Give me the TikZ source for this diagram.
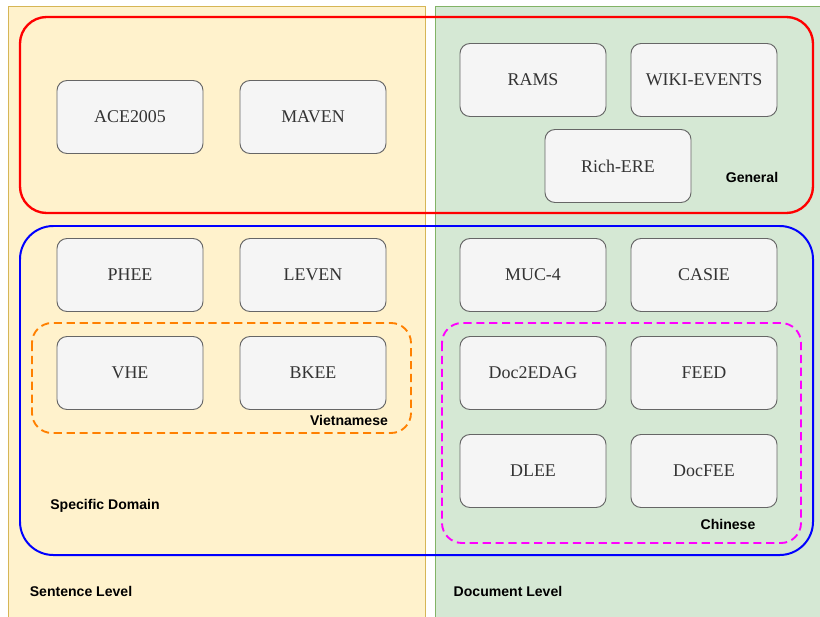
\documentclass[tikz,border=0pt]{standalone}
\usepackage{fontspec}
\setmainfont{Liberation Serif}
\setsansfont{Liberation Sans}
\definecolor{sentfill}{HTML}{FFF2CC}
\definecolor{sentdraw}{HTML}{D6B656}
\definecolor{docfill}{HTML}{D5E8D4}
\definecolor{docdraw}{HTML}{82B366}
\definecolor{boxfill}{HTML}{F5F5F5}
\definecolor{boxdraw}{HTML}{666666}
\definecolor{boxtext}{HTML}{333333}
\definecolor{orangeline}{HTML}{FF8000}
\definecolor{magentaline}{HTML}{FF00FF}
\begin{document}
\begin{tikzpicture}[x=0.03cm,y=-0.03cm,
    dataset/.style={draw=boxdraw,fill=boxfill,line width=0.8pt,rounded corners=0.3cm,
        minimum width=4.38cm,minimum height=2.19cm,inner sep=0pt,
        text=boxtext,font=\fontsize{15.3}{18}\selectfont},
    tag/.style={inner sep=0pt,font=\sffamily\bfseries\fontsize{12}{14}\selectfont}]
    \useasboundingbox (0,0) rectangle (820,616);
    \clip (0,0) rectangle (820,616);

    % level panels
    \draw[draw=sentdraw,fill=sentfill] (8,6) rectangle (425,630);
    \draw[draw=docdraw,fill=docfill] (435,6) rectangle (830,630);

    % groups
    \draw[red,line width=2pt,rounded corners=0.8cm] (20,17) rectangle (813,213);
    \draw[blue,line width=1.7pt,rounded corners=1cm] (20,226) rectangle (813,555);
    \draw[orangeline,line width=1.6pt,dashed,dash pattern=on 7pt off 4pt,rounded corners=0.6cm] (32,323) rectangle (411,433);
    \draw[magentaline,line width=1.6pt,dashed,dash pattern=on 7pt off 4pt,rounded corners=0.6cm] (442,323) rectangle (801,543);

    % sentence level datasets
    \node[dataset] (ace) at (130,117) {ACE2005};
    \node[dataset] (maven) at (313,117) {MAVEN};
    \node[dataset] (phee) at (130,275) {PHEE};
    \node[dataset] (leven) at (313,275) {LEVEN};
    \node[dataset] (vhe) at (130,373) {VHE};
    \node[dataset] (bkee) at (313,373) {BKEE};

    % document level datasets
    \node[dataset] (rams) at (533,80) {RAMS};
    \node[dataset] (wiki) at (704,80) {WIKI-EVENTS};
    \node[dataset] (richere) at (618,166) {Rich-ERE};
    \node[dataset] (muc) at (533,275) {MUC-4};
    \node[dataset] (casie) at (704,275) {CASIE};
    \node[dataset] (doc2edag) at (533,373) {Doc2EDAG};
    \node[dataset] (feed) at (704,373) {FEED};
    \node[dataset] (dlee) at (533,471) {DLEE};
    \node[dataset] (docfee) at (704,471) {DocFEE};

    % labels
    \node[tag] (general) at (752,177) {General};
    \node[tag] (vietnamese) at (349,420) {Vietnamese};
    \node[tag] (chinese) at (728,524) {Chinese};
    \node[tag] (specific) at (105,506) {Specific Domain};
    \node[tag] (sentence) at (81,591) {Sentence Level};
    \node[tag] (document) at (508,591) {Document Level};
\end{tikzpicture}
\end{document}
